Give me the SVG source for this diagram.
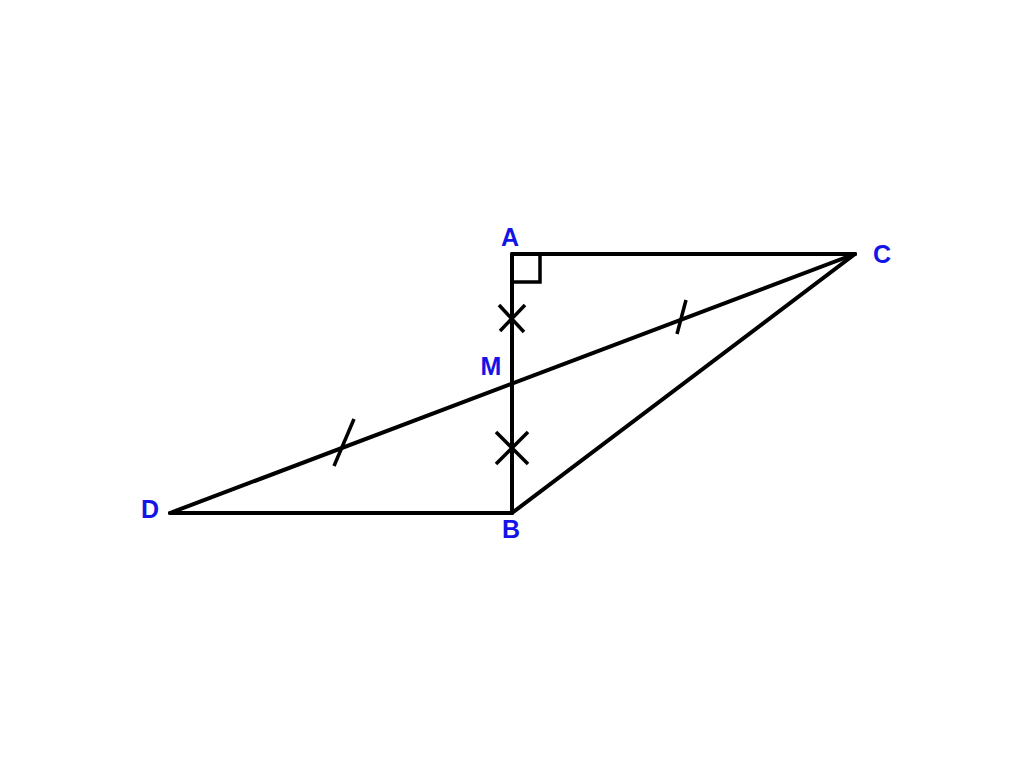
<svg xmlns="http://www.w3.org/2000/svg" width="1024" height="768" viewBox="0 0 1024 768">
<style>
.ln{stroke:#000;stroke-width:4;fill:none;stroke-linecap:round;stroke-linejoin:round}
.mk{stroke:#000;stroke-width:3.5;fill:none;stroke-linecap:butt}
.lb{font-family:"Liberation Sans",Arial,sans-serif;font-weight:bold;font-size:25px;fill:#1414e6;text-anchor:middle}
</style>
<rect width="1024" height="768" fill="#fff"/>
<g id="connectors">
<line class="ln" x1="512" y1="254" x2="855" y2="254"/>
<line class="ln" x1="512" y1="254" x2="512" y2="513"/>
<line class="ln" x1="170" y1="513" x2="512" y2="513"/>
<line class="ln" x1="512" y1="513" x2="855" y2="254"/>
<line class="ln" x1="170" y1="513" x2="855" y2="254"/>
<path class="mk" d="M512 282 H540 V254"/>
<line class="mk" x1="499" y1="305" x2="524" y2="332"/>
<line class="mk" x1="525" y1="305" x2="500" y2="331"/>
<line class="mk" x1="496" y1="432" x2="528" y2="464"/>
<line class="mk" x1="528" y1="432" x2="496" y2="464"/>
<line class="mk" x1="686" y1="300" x2="677" y2="334"/>
<line class="mk" x1="354" y1="419" x2="334" y2="466"/>
</g>
<g id="A"><text class="lb" x="510" y="246">A</text></g>
<g id="C"><text class="lb" x="882" y="263">C</text></g>
<g id="M"><text class="lb" x="491" y="375">M</text></g>
<g id="B"><text class="lb" x="511" y="538">B</text></g>
<g id="D"><text class="lb" x="150" y="518">D</text></g>
</svg>
